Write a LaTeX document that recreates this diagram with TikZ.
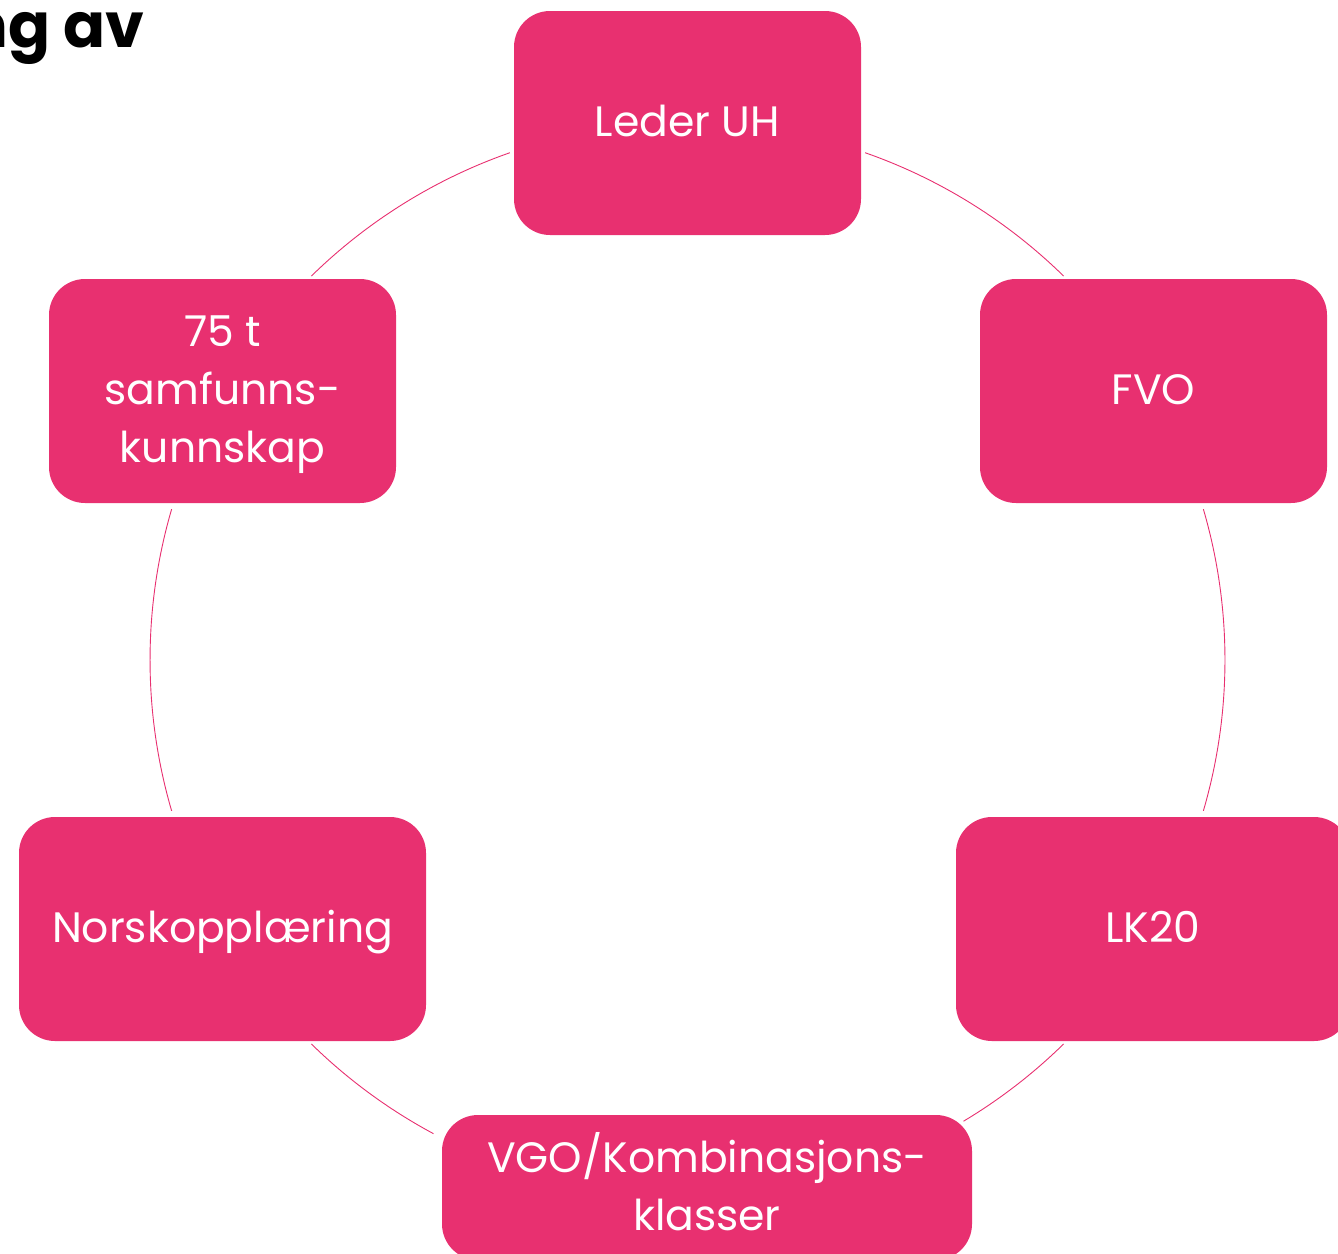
\documentclass[tikz,border=0pt]{standalone}
\usepackage{fontspec}
\setmainfont{Poppins}
\definecolor{boxpink}{RGB}{232,48,112}
\newcommand{\pst}{\rule[-0.35em]{0pt}{1.35em}}
\begin{document}
\begin{tikzpicture}[x=1pt,y=-1pt,
  pbox/.style={rectangle, rounded corners=36pt, fill=boxpink, text=white, inner sep=0pt,
    minimum height=224pt, align=center, font=\fontsize{42.5}{58}\selectfont},
  ring/.style={draw=boxpink, line width=0.9pt}]
\useasboundingbox (0,0) rectangle (1338,1253);
\clip (0,0) rectangle (1338,1253);
% title fragment
\node[anchor=base east, inner sep=0pt, font=\fontsize{62}{70}\selectfont\bfseries] (title) at (145,47) {ng av};
% ring centre (angles measured with y pointing down)
\coordinate (c) at (687.5,660);
\def\R{537.5}
\draw[ring] (c) ++(-109.3:\R) arc[start angle=-109.3, end angle=-134.4, radius=\R];
\draw[ring] (c) ++(-70.7:\R) arc[start angle=-70.7, end angle=-45.6, radius=\R];
\draw[ring] (c) ++(-16.3:\R) arc[start angle=-16.3, end angle=16.3, radius=\R];
\draw[ring] (c) ++(45.6:\R) arc[start angle=45.6, end angle=59.1, radius=\R];
\draw[ring] (c) ++(118.2:\R) arc[start angle=118.2, end angle=134.4, radius=\R];
\draw[ring] (c) ++(163.7:\R) arc[start angle=163.7, end angle=196.3, radius=\R];
% boxes
\node[pbox, minimum width=347pt] (leder) at (687.5,123) {\pst Leder UH};
\node[pbox, minimum width=347pt] (fvo) at (1153.5,391) {\pst FVO};
\node[pbox, minimum width=394pt] (lk) at (1153,929) {\pst LK20};
\node[pbox, minimum width=530pt, minimum height=145pt] (vgo) at (707,1187.5) {\pst VGO/Kombinasjons-\\\pst klasser};
\node[pbox, minimum width=407pt] (norsk) at (222.5,929) {\pst Norskopplæring};
\node[pbox, minimum width=347pt] (samf) at (222.5,391) {\pst 75 t\\\pst samfunns-\\\pst kunnskap};
\end{tikzpicture}
\end{document}
